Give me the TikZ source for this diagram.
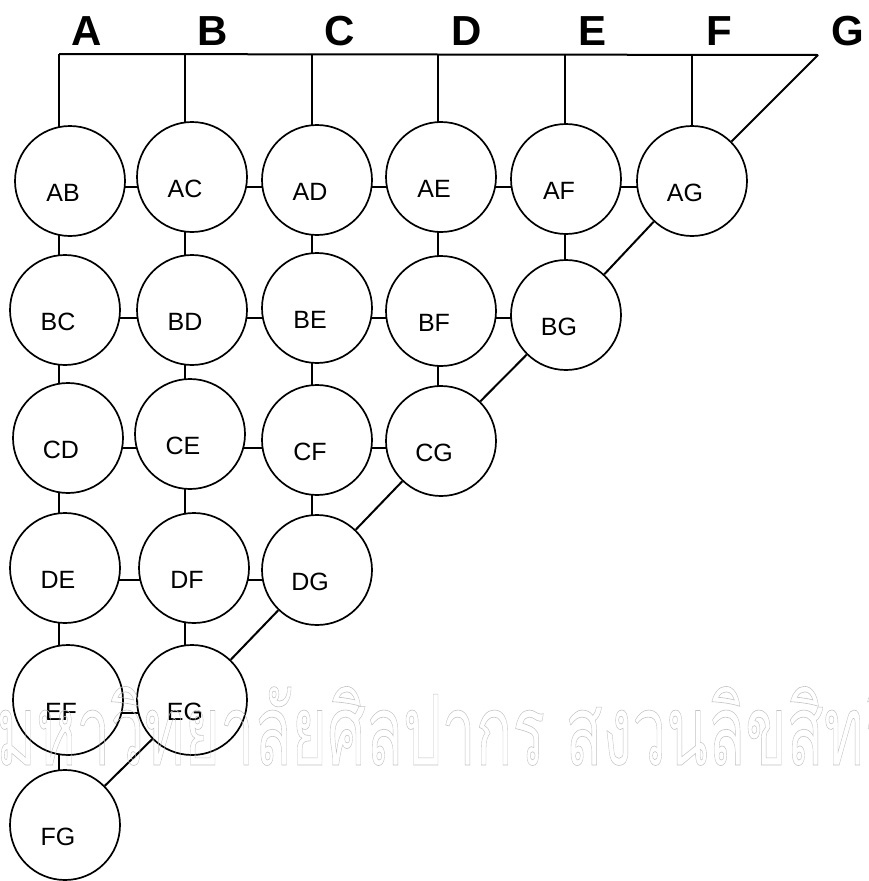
\documentclass[tikz,border=0pt]{standalone}
\usepackage{fontspec}
\setmainfont{Liberation Sans}
\newfontfamily\thaifont[Script=Thai]{Loma}
\usetikzlibrary{backgrounds}
\definecolor{wmgray}{gray}{0.76}
\tikzset{
  pair/.style={draw, circle, line width=1.7pt, fill=white, minimum size=110pt, inner sep=0pt},
  pairlbl/.style={font=\fontsize{25}{25}\selectfont, inner sep=0pt, xshift=-7pt, yshift=-12pt},
  item/.style={font=\fontsize{42}{42}\selectfont\bfseries, anchor=base, inner sep=0pt},
  wire/.style={line width=2pt},
  stamp/.style={font=\fontsize{98}{98}\selectfont\thaifont, text=wmgray, anchor=base west, inner sep=0pt, xscale=0.62}
}
\newcommand{\hollow}[1]{\special{pdf:literal direct 1 Tr 0.6 w}#1\special{pdf:literal direct 0 Tr}}

\begin{document}
\begin{tikzpicture}[x=1pt, y=-1pt]
  \useasboundingbox (0,0) rectangle (868,881);
  \node[item] (A) at (87,45) {A};
  \node[item] (B) at (213,45) {B};
  \node[item] (C) at (340,45) {C};
  \node[item] (D) at (467,45) {D};
  \node[item] (E) at (593,45) {E};
  \node[item] (F) at (719,45) {F};
  \node[item] (G) at (848,45) {G};

  \coordinate (tA) at (59,54);
  \coordinate (tB) at (185,54);
  \coordinate (tC) at (312,54);
  \coordinate (tD) at (438,54);
  \coordinate (tE) at (565,54);
  \coordinate (tF) at (692,54);
  \coordinate (tG) at (818,55);
  \coordinate (r1) at (0,187);
  \coordinate (r2) at (0,318);
  \coordinate (r3) at (0,448);
  \coordinate (r4) at (0,580);
  \coordinate (r5) at (0,713);

  % pairs
  \node[pair, label={[pairlbl]center:AB}] (AB) at (70,181) {};
  \node[pair, label={[pairlbl]center:AC}] (AC) at (192,177) {};
  \node[pair, label={[pairlbl]center:AD}] (AD) at (317,180) {};
  \node[pair, label={[pairlbl]center:AE}] (AE) at (441,177) {};
  \node[pair, label={[pairlbl]center:AF}] (AF) at (566,179) {};
  \node[pair, label={[pairlbl]center:AG}] (AG) at (692,181) {};
  \node[pair, label={[pairlbl]center:BC}] (BC) at (65,310) {};
  \node[pair, label={[pairlbl]center:BD}] (BD) at (192,310) {};
  \node[pair, label={[pairlbl]center:BE}] (BE) at (317,308) {};
  \node[pair, label={[pairlbl]center:BF}] (BF) at (441,311) {};
  \node[pair, label={[pairlbl]center:BG}] (BG) at (566,315) {};
  \node[pair, label={[pairlbl]center:CD}] (CD) at (68,438) {};
  \node[pair, label={[pairlbl]center:CE}] (CE) at (190,434) {};
  \node[pair, label={[pairlbl]center:CF}] (CF) at (317,440) {};
  \node[pair, label={[pairlbl]center:CG}] (CG) at (441,441) {};
  \node[pair, label={[pairlbl]center:DE}] (DE) at (65,568) {};
  \node[pair, label={[pairlbl]center:DF}] (DF) at (194,568) {};
  \node[pair, label={[pairlbl]center:DG}] (DG) at (317,570) {};
  \node[pair, label={[pairlbl]center:EF}] (EF) at (68,700) {};
  \node[pair, label={[pairlbl]center:EG}] (EG) at (192,700) {};
  \node[pair, label={[pairlbl]center:FG}] (FG) at (65,825) {};

  \begin{pgfonlayer}{background}
    \draw[wire] (tA) -- (tG);
    % columns
    \draw[wire] (tA) -- (FG -| tA);
    \draw[wire] (tB) -- (EG -| tB);
    \draw[wire] (tC) -- (DG -| tC);
    \draw[wire] (tD) -- (CG -| tD);
    \draw[wire] (tE) -- (BG -| tE);
    \draw[wire] (tF) -- (AG -| tF);
    % rows
    \draw[wire] (AB |- r1) -- (AG |- r1);
    \draw[wire] (BC |- r2) -- (BG |- r2);
    \draw[wire] (CD |- r3) -- (CG |- r3);
    \draw[wire] (DE |- r4) -- (DG |- r4);
    \draw[wire] (EF |- r5) -- (EG |- r5);
  \end{pgfonlayer}
  \draw[wire] (tG) -- (AG) (AG) -- (BG) (BG) -- (CG) (CG) -- (DG) (DG) -- (EG) (EG) -- (FG);

  \node[stamp] (mark) at (-4,765) {\hollow{มหาวิทยาลัยศิลปากร สงวนลิขสิทธิ์}};
\end{tikzpicture}
\end{document}
